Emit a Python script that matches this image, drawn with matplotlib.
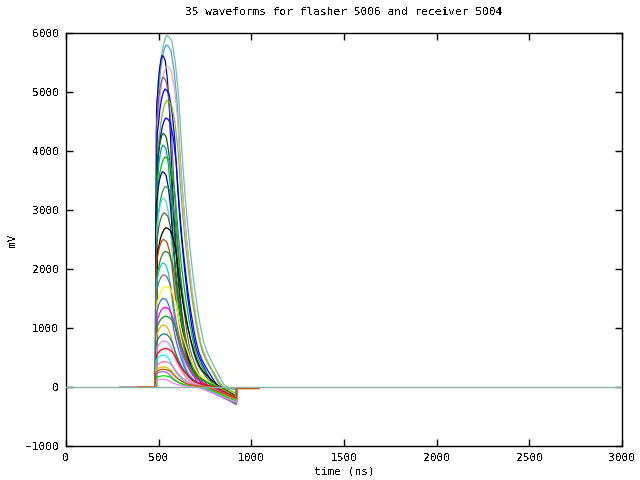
import numpy as np
import matplotlib
matplotlib.use("Agg")
import matplotlib.pyplot as plt

# normalised pulse shape (time in ns after the rise, fraction of peak)
template_t = [0, 2, 4, 7, 10, 16, 25, 35, 46, 57, 70, 84, 102, 120, 138, 156, 168, 180,
              190, 202, 214, 226, 237, 255, 274, 296, 318, 340, 361, 380]
template_v = [0.0, 0.25, 0.55, 0.82, 0.86, 0.88, 0.93, 0.964, 0.988, 1.0, 0.995, 0.983,
              0.926, 0.831, 0.67, 0.54, 0.47, 0.405, 0.355, 0.30, 0.255, 0.21, 0.175,
              0.13, 0.10, 0.075, 0.052, 0.03, 0.01, 0.0]

# one entry per waveform
peak_mv = [5960, 5800, 5620, 5440, 5250, 5050, 4860, 4560, 4300, 4100, 3900, 3650,
           3400, 3200, 2950, 2700, 2500, 2300, 2100, 1900, 1700, 1500, 1350, 1200,
           1050, 900, 780, 650, 540, 430, 340, 260, 190, 130, 300]
rise_ns = [487, 488, 484, 489, 482, 485, 490, 487, 483, 486, 484, 481,
           488, 485, 483, 486, 482, 487, 484, 481, 485, 483, 486, 482,
           484, 481, 485, 483, 482, 484, 481, 483, 485, 482, 480]
width = [1.00, 0.93, 0.62, 0.95, 0.72, 0.85, 0.95, 0.90, 0.70, 0.64, 0.88, 0.70,
         0.84, 0.66, 0.78, 0.92, 0.74, 0.82, 0.66, 0.76, 0.90, 0.70, 0.80, 0.92,
         0.68, 0.78, 0.72, 0.86, 0.66, 0.76, 0.70, 0.62, 0.68, 0.60, 0.74]
undershoot = [40, 50, 280, 120, 300, 200, 110, 180, 250, 270, 150, 240,
              190, 260, 220, 160, 230, 200, 270, 240, 180, 250, 210, 170,
              260, 220, 230, 190, 250, 210, 230, 270, 240, 260, 200]
pre_start = [460, 465, 455, 470, 290, 460, 470, 465, 455, 460, 465, 450,
             470, 460, 455, 465, 390, 460, 455, 450, 465, 455, 460, 450,
             455, 450, 460, 455, 450, 460, 450, 455, 460, 450, 390]
tail_end = [920, 920, 920, 920, 920, 920, 920, 920, 920, 920, 920, 920,
            920, 920, 920, 920, 1040, 920, 920, 920, 920, 920, 920, 920,
            1000, 920, 920, 1040, 920, 920, 1020, 920, 920, 920, 1040]
colors = ["#66c4a4", "#5a9ec8", "#0000c0", "#e6a8c4", "#806464", "#0000ff", "#80c400",
          "#0000ff", "#006400", "#009c9c", "#00c000", "#000080", "#2e8b57", "#40e0d0",
          "#556b2f", "#000000", "#c04000", "#228b22", "#00cdcd", "#8b6969", "#ffff00",
          "#4169e1", "#ff00ff", "#00a000", "#ffa500", "#008080", "#ee82ee", "#ff0000",
          "#00ffff", "#ff69b4", "#c8c800", "#9370db", "#00e000", "#ff80ff", "#cd4f00"]

plt.rcParams["font.family"] = "DejaVu Sans Mono"
plt.rcParams["font.size"] = 8
plt.rcParams["text.antialiased"] = False

fig = plt.figure(figsize=(6.4, 4.8), dpi=100)
ax = fig.add_axes([66 / 640, 34 / 480, 556 / 640, 413 / 480])

tt = np.array(template_t, dtype=float)
tv = np.array(template_v)
for i in range(len(peak_mv)):
    x = [pre_start[i], rise_ns[i]] + list(rise_ns[i] + tt * width[i]) + [920, 920, tail_end[i]]
    y = [0, 0] + list(peak_mv[i] * tv) + [-undershoot[i], -25, -25]
    ax.plot(x, y, color=colors[i], lw=0.9, zorder=2)

ax.axhline(0, color="#8cb4a8", lw=1, zorder=3)

ax.set_xlim(0, 3000)
ax.set_ylim(-1000, 6000)
ax.set_xticks(np.arange(0, 3001, 500))
ax.set_yticks(np.arange(-1000, 6001, 1000))
ax.tick_params(direction="in", length=5, width=1, top=True, right=True, pad=5)
for s in ax.spines.values():
    s.set_linewidth(1)

fig.text(344 / 640, 1 - 12 / 480, "35 waveforms for flasher 5006 and receiver 5004",
         ha="center", va="center")
fig.text(344 / 640, 1 - 472 / 480, "time (ns)", ha="center", va="center")
fig.text(12 / 640, 1 - 240 / 480, "mV", ha="center", va="center", rotation=90)

fig.savefig("out.png", dpi=100)
